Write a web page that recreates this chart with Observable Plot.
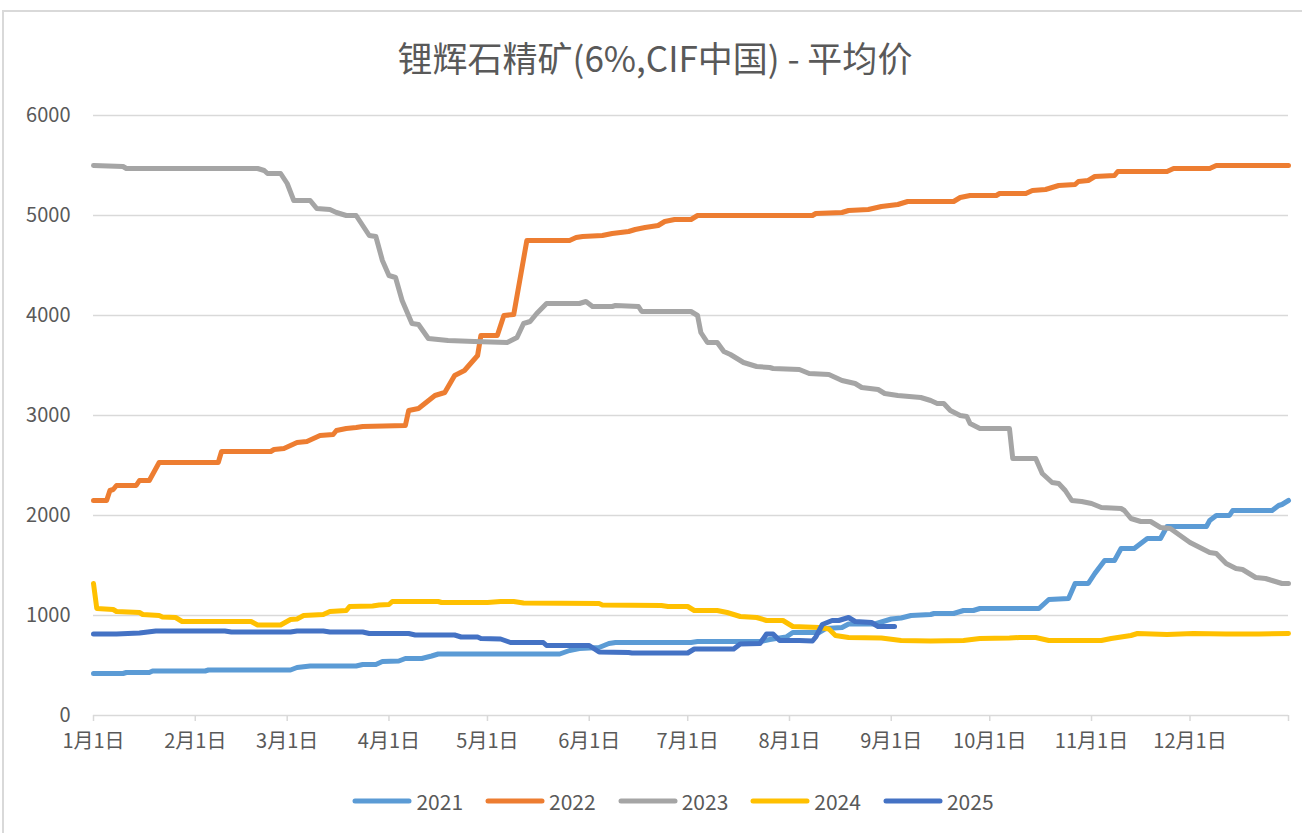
<!DOCTYPE html>
<html>
<head>
<meta charset="utf-8">
<script src="https://cdn.jsdelivr.net/npm/d3@7"></script>
<script src="https://cdn.jsdelivr.net/npm/@observablehq/plot@0.6"></script>
<style>
  html, body { margin: 0; padding: 0; background: #fff; }
  #wrap { position: relative; width: 1302px; height: 833px; overflow: hidden; font-family: "Noto Sans CJK SC", "Noto Sans", sans-serif; }
  #frame { position: absolute; left: 2px; top: 10px; width: 1400px; height: 900px; border-left: 2px solid #d9d9d9; border-top: 2px solid #d9d9d9; }
  #title { position: absolute; left: 4px; width: 1302px; top: 35px; line-height: 44px; text-align: center; font-size: 35px; color: #595959; }
  #chart { position: absolute; left: 0; top: 0; }
  #legend { position: absolute; left: 22px; width: 1302px; top: 789px; height: 24px; display: flex; justify-content: center; align-items: center; gap: 22px; font-size: 21px; color: #595959; }
  .item { display: flex; align-items: center; gap: 4px; }
</style>
</head>
<body>
<div id="wrap">
  <div id="frame"></div>
  <div id="title"></div>
  <div id="chart"></div>
  <div id="legend"></div>
</div>
<script>
const titleText = "锂辉石精矿(6%,CIF中国) - 平均价";
const years = ["2021", "2022", "2023", "2024", "2025"];
const colors = ["#5B9BD5", "#ED7D31", "#A5A5A5", "#FFC000", "#4472C4"];
const monthTicks = [0, 31, 59, 90, 120, 151, 181, 212, 243, 273, 304, 334, 364];
const monthLabels = ["1月1日", "2月1日", "3月1日", "4月1日", "5月1日", "6月1日", "7月1日", "8月1日", "9月1日", "10月1日", "11月1日", "12月1日", ""];
const yTicks = [0, 1000, 2000, 3000, 4000, 5000, 6000];

// [day of year, price]
const s2021 = [[0,420],[9,420],[10,430],[17,430],[18,445],[34,445],[35,455],[60,455],[62,480],[66,495],[80,495],[82,510],[86,510],[88,540],[93,545],[95,570],[100,570],[103,595],[105,615],[142,615],[145,650],[148,670],[154,680],[157,720],[159,730],[182,730],[184,740],[203,740],[206,760],[209,775],[211,785],[213,830],[221,830],[223,870],[228,880],[230,915],[238,915],[240,935],[243,965],[246,975],[249,1000],[255,1010],[256,1020],[262,1020],[265,1050],[268,1050],[270,1070],[288,1070],[291,1160],[297,1170],[299,1320],[303,1320],[305,1420],[308,1550],[311,1550],[313,1670],[317,1670],[321,1770],[325,1770],[327,1890],[339,1890],[340,1950],[342,2000],[346,2000],[347,2050],[359,2050],[361,2100],[362,2110],[364,2150]];
const s2022 = [[0,2150],[4,2150],[5,2250],[6,2260],[7,2300],[13,2300],[14,2350],[17,2350],[20,2530],[38,2530],[39,2640],[54,2640],[55,2660],[58,2670],[60,2700],[62,2730],[65,2740],[67,2770],[69,2800],[73,2810],[74,2850],[77,2870],[80,2880],[82,2890],[95,2900],[96,3050],[99,3070],[104,3200],[107,3230],[110,3400],[113,3450],[117,3600],[118,3800],[123,3800],[125,4000],[128,4010],[132,4750],[145,4750],[147,4780],[149,4790],[155,4800],[158,4820],[163,4840],[165,4860],[168,4880],[172,4900],[174,4940],[177,4960],[182,4960],[184,5000],[219,5000],[220,5020],[228,5030],[230,5050],[236,5060],[240,5090],[245,5110],[248,5140],[262,5140],[264,5180],[267,5200],[275,5200],[276,5220],[284,5220],[286,5250],[290,5260],[292,5280],[294,5300],[299,5310],[300,5340],[303,5350],[305,5390],[311,5400],[312,5440],[327,5440],[329,5470],[340,5470],[342,5500],[364,5500]];
const s2023 = [[0,5500],[9,5490],[10,5470],[50,5470],[52,5450],[53,5420],[57,5420],[59,5320],[61,5150],[66,5150],[68,5070],[72,5060],[74,5030],[77,5000],[80,5000],[82,4900],[84,4800],[86,4790],[88,4550],[90,4400],[92,4380],[94,4150],[97,3920],[99,3910],[102,3770],[108,3750],[116,3740],[126,3730],[129,3780],[131,3920],[133,3940],[135,4020],[138,4120],[148,4120],[150,4140],[152,4090],[158,4090],[159,4100],[166,4090],[167,4040],[182,4040],[184,4000],[185,3830],[187,3730],[190,3730],[192,3640],[194,3610],[198,3530],[202,3490],[206,3480],[207,3470],[215,3460],[218,3420],[224,3410],[228,3350],[232,3320],[234,3280],[239,3260],[241,3220],[245,3200],[252,3180],[255,3150],[257,3120],[259,3120],[261,3050],[264,3000],[266,2990],[267,2920],[270,2870],[279,2870],[280,2570],[287,2570],[289,2420],[292,2330],[294,2320],[296,2250],[298,2150],[301,2140],[304,2120],[307,2080],[313,2070],[314,2050],[316,1970],[319,1940],[322,1940],[325,1880],[328,1870],[334,1730],[340,1630],[342,1620],[345,1520],[348,1470],[350,1460],[354,1380],[357,1370],[359,1350],[362,1320],[364,1320]];
const s2024 = [[0,1320],[1,1070],[6,1060],[7,1040],[14,1030],[15,1010],[20,1000],[21,985],[25,980],[27,940],[48,940],[50,905],[57,905],[60,960],[62,965],[64,1000],[70,1010],[72,1040],[77,1050],[78,1090],[85,1095],[87,1105],[90,1110],[91,1140],[105,1140],[106,1130],[120,1130],[124,1140],[128,1140],[131,1125],[154,1120],[155,1105],[173,1100],[175,1090],[181,1090],[183,1050],[190,1050],[193,1030],[197,990],[202,980],[205,950],[210,950],[213,890],[221,880],[224,865],[226,800],[230,780],[240,775],[246,750],[255,745],[265,750],[270,770],[279,775],[282,780],[287,780],[291,750],[307,750],[310,770],[316,800],[318,820],[327,810],[335,820],[345,815],[355,815],[364,820]];
const s2025 = [[0,815],[7,815],[14,825],[19,845],[40,845],[42,835],[60,835],[62,845],[70,845],[72,835],[82,835],[84,820],[96,820],[98,805],[110,805],[112,785],[117,785],[118,770],[124,765],[127,730],[137,730],[138,700],[151,700],[154,635],[163,630],[164,625],[181,625],[183,665],[195,665],[197,715],[203,720],[205,815],[207,815],[209,750],[215,750],[219,745],[220,785],[222,910],[225,950],[227,950],[230,980],[232,940],[237,930],[239,890],[244,890]];

const seriesList = [s2021, s2022, s2023, s2024, s2025];
const rows = seriesList.flatMap((s, i) => s.map(([day, price]) => ({ year: years[i], day, price })));

document.getElementById("title").textContent = titleText;

const font = '"Noto Sans CJK SC", "Noto Sans", sans-serif';
const chart = Plot.plot({
  width: 1302,
  height: 780,
  marginLeft: 93,
  marginRight: 14,
  marginTop: 115,
  marginBottom: 65,
  style: { fontFamily: font, fontSize: "20px", color: "#595959", background: "transparent" },
  x: { type: "linear", domain: [0, 364] },
  y: { domain: [0, 6000] },
  color: { domain: years, range: colors },
  marks: [
    Plot.ruleY(yTicks.slice(1), { stroke: "#d9d9d9", strokeWidth: 1.5 }),
    Plot.ruleY([0], { stroke: "#d9d9d9", strokeWidth: 1.5 }),
    Plot.axisY({ ticks: yTicks, tickFormat: (d) => String(d), tickSize: 0, tickPadding: 23, label: null, fill: "#595959", fontSize: 20 }),
    Plot.axisX({ ticks: monthTicks, tickFormat: (d, i) => monthLabels[i], tickSize: 6, tickPadding: 12, stroke: "#d9d9d9", strokeWidth: 1.5, strokeOpacity: 1, label: null, fill: "#595959", fontSize: 20 }),
    Plot.line(rows, { x: "day", y: "price", z: "year", stroke: "year", strokeWidth: 5, strokeLinejoin: "round", strokeLinecap: "round", curve: "linear" })
  ]
});
document.getElementById("chart").appendChild(chart);

const legend = document.getElementById("legend");
years.forEach((y, i) => {
  const item = document.createElement("div");
  item.className = "item";
  item.innerHTML = `<svg width="60" height="10"><line x1="3" y1="5" x2="57" y2="5" stroke="${colors[i]}" stroke-width="5" stroke-linecap="round"/></svg><span>${y}</span>`;
  legend.appendChild(item);
});
</script>
</body>
</html>
